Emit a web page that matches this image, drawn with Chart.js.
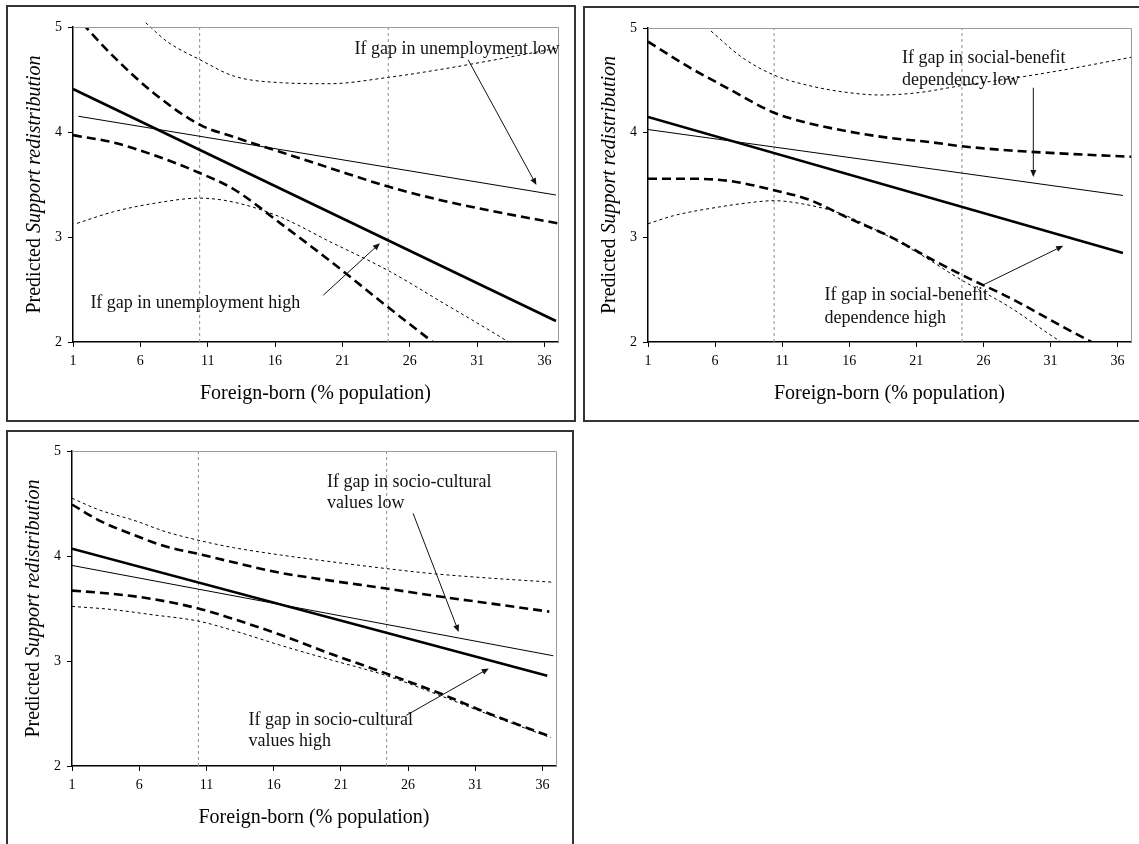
<!DOCTYPE html>
<html>
<head>
<meta charset="utf-8">
<title>Predicted support for redistribution by foreign-born share</title>
<script src="https://cdn.jsdelivr.net/npm/chart.js@4.4.1/dist/chart.umd.min.js"></script>
<style>
  html, body { margin: 0; padding: 0; background: #fff; width: 1139px; height: 844px; overflow: hidden; }
  .panel { position: absolute; border: 2px solid #333; box-sizing: border-box; background: #fff; }
  .panel canvas { display: block; }
</style>
</head>
<body>
<div class="panel" style="left:6px;top:5px;width:570px;height:417px"><canvas id="chartUnemp"></canvas></div>
<div class="panel" style="left:583px;top:6px;width:562px;height:416px"><canvas id="chartBenefit"></canvas></div>
<div class="panel" style="left:6px;top:430px;width:568px;height:420px"><canvas id="chartCulture"></canvas></div>

<script>
/* ---------- data ---------- */
const xTicks = [1, 6, 11, 16, 21, 26, 31, 36];
const yTicks = [2, 3, 4, 5];
const refLinesX = [10.4, 24.4];

// Panel 1: gap in unemployment
const unempHighFitX = [1, 36.85];
const unempHighFitY = [4.41, 2.20];
const unempHighUpX  = [1, 4, 7, 10.4, 13, 16.4, 20, 24.4, 28, 32, 37];
const unempHighUpY  = [5.13, 4.72, 4.37, 4.07, 3.95, 3.81, 3.66, 3.48, 3.36, 3.25, 3.13];
const unempHighLoX  = [1, 4, 7, 10.4, 13, 16.4, 20, 24.4, 28, 32, 37];
const unempHighLoY  = [3.97, 3.90, 3.78, 3.61, 3.45, 3.13, 2.78, 2.33, 1.97, 1.57, 1.07];
const unempLowFitX  = [1.4, 36.85];
const unempLowFitY  = [4.15, 3.40];
const unempLowUpX   = [6.4, 8, 10.4, 13, 16.4, 20, 24.4, 28, 32, 37];
const unempLowUpY   = [5.04, 4.86, 4.69, 4.53, 4.47, 4.46, 4.52, 4.59, 4.68, 4.80];
const unempLowLoX   = [1.3, 4, 7, 10.4, 13, 16.4, 20, 24.4, 28.5, 32.7, 37];
const unempLowLoY   = [3.13, 3.24, 3.32, 3.37, 3.33, 3.19, 2.96, 2.68, 2.37, 2.05, 1.70];

// Panel 2: gap in social-benefit dependency
const benHighFitX = [1, 36.4];
const benHighFitY = [4.15, 2.85];
const benHighUpX  = [1, 4, 7, 10.4, 13, 16, 19, 22, 24.4, 28, 32, 37];
const benHighUpY  = [4.87, 4.63, 4.42, 4.19, 4.09, 4.01, 3.95, 3.91, 3.87, 3.83, 3.80, 3.77];
const benHighLoX  = [1, 4, 7, 10.4, 13, 16, 19, 22, 24.4, 28, 32, 37];
const benHighLoY  = [3.56, 3.56, 3.54, 3.45, 3.36, 3.18, 3.01, 2.80, 2.64, 2.42, 2.14, 1.80];
const benLowFitX  = [1, 36.4];
const benLowFitY  = [4.03, 3.40];
const benLowUpX   = [5.7, 8, 10.4, 13, 15.5, 18.3, 21, 24.4, 28.7, 32, 37];
const benLowUpY   = [4.97, 4.72, 4.55, 4.45, 4.39, 4.36, 4.38, 4.45, 4.53, 4.60, 4.72];
const benLowLoX   = [1, 3, 6.3, 8.5, 10.4, 12.5, 15.3, 18, 21, 24.4, 28, 31.2, 35];
const benLowLoY   = [3.13, 3.21, 3.29, 3.33, 3.35, 3.32, 3.23, 3.07, 2.86, 2.59, 2.33, 2.05, 1.75];

// Panel 3: gap in socio-cultural values
const culHighFitX = [1, 36.35];
const culHighFitY = [4.07, 2.86];
const culHighUpX  = [1, 3, 5.6, 8, 10.4, 13, 16.5, 20, 24.4, 28, 32, 36.5];
const culHighUpY  = [4.49, 4.34, 4.20, 4.09, 4.02, 3.94, 3.84, 3.77, 3.69, 3.62, 3.55, 3.47];
const culHighLoX  = [1, 4, 7, 10.4, 13, 16.5, 20, 24.4, 28.4, 32, 36.6];
const culHighLoY  = [3.67, 3.64, 3.59, 3.50, 3.40, 3.25, 3.08, 2.88, 2.69, 2.50, 2.28];
const culLowFitX  = [1, 36.8];
const culLowFitY  = [3.91, 3.05];
const culLowUpX   = [1, 3, 5.6, 8, 10.4, 13, 16.5, 20, 24.4, 28, 32, 36.8];
const culLowUpY   = [4.55, 4.44, 4.34, 4.23, 4.15, 4.08, 4.01, 3.95, 3.88, 3.83, 3.79, 3.75];
const culLowLoX   = [1, 4, 7, 10.4, 13, 16.5, 20, 24.4, 28.4, 32, 36.6];
const culLowLoY   = [3.52, 3.49, 3.44, 3.38, 3.29, 3.15, 3.02, 2.86, 2.67, 2.49, 2.27];

/* ---------- helpers ---------- */
const FONT = '"Liberation Serif", "Times New Roman", serif';
const X_TITLE = 'Foreign-born (% population)';

const pts = (xs, ys) => xs.map((x, i) => ({ x: x, y: ys[i] }));

function fit(xs, ys, thick) {
  return { data: pts(xs, ys), borderColor: '#000', borderWidth: thick ? 2.6 : 1, pointRadius: 0, tension: 0 };
}
function band(xs, ys, thick, clip) {
  const ds = {
    data: pts(xs, ys), borderColor: '#000', pointRadius: 0, cubicInterpolationMode: 'monotone',
    borderWidth: thick ? 2.6 : 1, borderDash: thick ? [9, 5] : [3, 3]
  };
  if (clip) ds.clip = clip;
  return ds;
}
function refLines() {
  return refLinesX.map(v => ({
    data: pts([v, v], [yTicks[0], yTicks[yTicks.length - 1]]),
    borderColor: '#8c8c8c', borderWidth: 1, borderDash: [3, 3], pointRadius: 0, tension: 0
  }));
}

function drawArrow(ctx, x1, y1, x2, y2) {
  const ang = Math.atan2(y2 - y1, x2 - x1), L = 7, W = 3;
  ctx.beginPath(); ctx.moveTo(x1, y1); ctx.lineTo(x2 - Math.cos(ang) * 3, y2 - Math.sin(ang) * 3); ctx.stroke();
  ctx.beginPath();
  ctx.moveTo(x2, y2);
  ctx.lineTo(x2 - L * Math.cos(ang) + W * Math.sin(ang), y2 - L * Math.sin(ang) - W * Math.cos(ang));
  ctx.lineTo(x2 - L * Math.cos(ang) - W * Math.sin(ang), y2 - L * Math.sin(ang) + W * Math.cos(ang));
  ctx.closePath(); ctx.fill();
}

// frame, notes, arrows and axis titles
const decor = {
  id: 'decor',
  afterDraw(chart, args, opts) {
    const { ctx, chartArea: a, scales: { x, y } } = chart;
    ctx.save();
    ctx.strokeStyle = '#9a9a9a'; ctx.lineWidth = 1;
    ctx.beginPath();
    ctx.moveTo(a.left, a.top + 0.5); ctx.lineTo(a.right + 0.5, a.top + 0.5); ctx.lineTo(a.right + 0.5, a.bottom);
    ctx.stroke();

    ctx.fillStyle = '#111'; ctx.strokeStyle = '#111'; ctx.lineWidth = 1;
    ctx.textAlign = 'left'; ctx.textBaseline = 'alphabetic';
    (opts.notes || []).forEach(n => {
      ctx.font = (n.size || 18) + 'px ' + FONT;
      n.lines.forEach((t, i) => ctx.fillText(t, x.getPixelForValue(n.x), y.getPixelForValue(n.y) + i * n.gap));
    });
    (opts.arrows || []).forEach(ar => drawArrow(ctx,
      x.getPixelForValue(ar[0]), y.getPixelForValue(ar[1]),
      x.getPixelForValue(ar[2]), y.getPixelForValue(ar[3])));

    // x title
    ctx.fillStyle = '#000';
    ctx.font = '20px ' + FONT; ctx.textAlign = 'center'; ctx.textBaseline = 'middle';
    ctx.fillText(X_TITLE, (a.left + a.right) / 2, a.bottom + 52);

    // y title: "Predicted " + italic "Support redistribution"
    const p1 = 'Predicted ', p2 = 'Support redistribution';
    ctx.font = '20px ' + FONT; const w1 = ctx.measureText(p1).width;
    ctx.font = 'italic 20px ' + FONT; const w2 = ctx.measureText(p2).width;
    ctx.translate(a.left - 38, (a.top + a.bottom) / 2);
    ctx.rotate(-Math.PI / 2);
    ctx.textAlign = 'left';
    ctx.font = '20px ' + FONT; ctx.fillText(p1, -(w1 + w2) / 2, 0);
    ctx.font = 'italic 20px ' + FONT; ctx.fillText(p2, -(w1 + w2) / 2 + w1, 0);
    ctx.restore();
  }
};

function makeChart(id, datasets, deco, lay) {
  const axisCommon = {
    type: 'linear',
    grid: { drawOnChartArea: false, drawTicks: true, tickLength: 5, color: '#000', lineWidth: 1 },
    border: { color: '#000', width: 1.5 },
    ticks: { font: { family: FONT, size: 14 }, color: '#000' }
  };
  return new Chart(document.getElementById(id), {
    type: 'line',
    data: { datasets: datasets },
    options: {
      responsive: true, maintainAspectRatio: false, animation: false, events: [],
      layout: { padding: { top: lay.top, right: lay.right, left: 0, bottom: 0 } },
      plugins: { legend: { display: false }, tooltip: { enabled: false }, decor: deco },
      scales: {
        x: Object.assign({}, axisCommon, {
          min: 1, max: 37,
          afterBuildTicks: s => { s.ticks = xTicks.map(v => ({ value: v })); },
          afterFit: s => { s.height = lay.xH; },
          ticks: Object.assign({}, axisCommon.ticks, { padding: 6, maxRotation: 0, autoSkip: false })
        }),
        y: Object.assign({}, axisCommon, {
          min: 2, max: 5,
          afterBuildTicks: s => { s.ticks = yTicks.map(v => ({ value: v })); },
          afterFit: s => { s.width = lay.yW; },
          ticks: Object.assign({}, axisCommon.ticks, { padding: 6 })
        })
      }
    },
    plugins: [decor]
  });
}

/* ---------- charts ---------- */
makeChart('chartUnemp', [
  fit(unempHighFitX, unempHighFitY, true),
  band(unempHighUpX, unempHighUpY, true),
  band(unempHighLoX, unempHighLoY, true),
  fit(unempLowFitX, unempLowFitY, false),
  band(unempLowUpX, unempLowUpY, false, { left: 0, top: 6, right: 0, bottom: 0 }),
  band(unempLowLoX, unempLowLoY, false),
  ...refLines()
], {
  notes: [
    { x: 21.9, y: 4.745, gap: 22, lines: ['If gap in unemployment low'] },
    { x: 2.29, y: 2.326, gap: 22, lines: ['If gap in unemployment high'] }
  ],
  arrows: [[30.33, 4.688, 35.4, 3.495], [19.58, 2.446, 23.78, 2.94]]
}, { top: 20, right: 16, yW: 65, xH: 78 });

makeChart('chartBenefit', [
  fit(benHighFitX, benHighFitY, true),
  band(benHighUpX, benHighUpY, true),
  band(benHighLoX, benHighLoY, true),
  fit(benLowFitX, benLowFitY, false),
  band(benLowUpX, benLowUpY, false),
  band(benLowLoX, benLowLoY, false),
  ...refLines()
], {
  notes: [
    { x: 19.94, y: 4.668, gap: 22.5, lines: ['If gap in social-benefit', 'dependency low'] },
    { x: 14.16, y: 2.399, gap: 22.5, lines: ['If gap in social-benefit', 'dependence high'] }
  ],
  arrows: [[29.72, 4.429, 29.72, 3.577], [25.94, 2.543, 31.95, 2.919]]
}, { top: 20, right: 12, yW: 63, xH: 78 });

makeChart('chartCulture', [
  fit(culHighFitX, culHighFitY, true),
  band(culHighUpX, culHighUpY, true),
  band(culHighLoX, culHighLoY, true),
  fit(culLowFitX, culLowFitY, false),
  band(culLowUpX, culLowUpY, false),
  band(culLowLoX, culLowLoY, false),
  ...refLines()
], {
  notes: [
    { x: 19.97, y: 4.66, gap: 21, lines: ['If gap in socio-cultural', 'values low'] },
    { x: 14.13, y: 2.388, gap: 20.5, lines: ['If gap in socio-cultural', 'values high'] }
  ],
  arrows: [[26.37, 4.406, 29.76, 3.277], [25.87, 2.483, 32.0, 2.929]]
}, { top: 19, right: 16, yW: 64, xH: 82 });
</script>
</body>
</html>
